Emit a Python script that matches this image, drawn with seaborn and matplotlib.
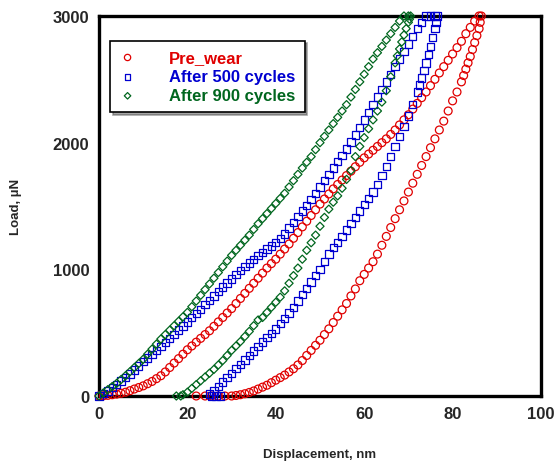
import numpy as np
import pandas as pd
import matplotlib
matplotlib.use("Agg")
import matplotlib.pyplot as plt
import seaborn as sns

sns.set_style("white")
plt.rcParams["font.family"] = ["Liberation Sans", "DejaVu Sans"]

# ---------------------------------------------------------------- data (~1 nm steps)
pre_load_x = list(range(0, 87))
pre_load_y = [0, 2, 5, 10, 15, 22, 30, 42, 55, 67, 80, 97, 115, 137, 160, 190, 225, 260,
              295, 330, 365, 395, 425, 455, 485, 515, 550, 585, 620, 655, 690, 730, 770,
              810, 850, 890, 930, 970, 1010, 1045, 1080, 1120, 1160, 1200, 1245, 1290, 1335,
              1380, 1425, 1470, 1515, 1555, 1595, 1635, 1670, 1705, 1740, 1775, 1810, 1845,
              1880, 1910, 1940, 1970, 2000, 2030, 2065, 2100, 2140, 2180, 2220, 2265, 2310,
              2355, 2400, 2450, 2500, 2550, 2600, 2650, 2700, 2750, 2800, 2860, 2910, 2960,
              3000]
pre_unload_x = [86.5, 86.25, 86, 85.5, 85, 84.5, 84, 83.5, 83, 82.5] + \
    list(range(82, 29, -1)) + [28.5, 27, 25.5, 24, 22]
pre_unload_y = [3000, 2950, 2900, 2845, 2790, 2735, 2680, 2630, 2580, 2530,
                2480, 2400, 2330, 2250, 2170, 2100, 2030, 1960, 1890, 1820, 1750, 1680,
                1610, 1540, 1470, 1400, 1330, 1260, 1190, 1120, 1060, 1010, 960, 910, 845,
                790, 730, 680, 630, 580, 530, 485, 440, 400, 360, 320, 280, 245, 215, 190,
                165, 145, 125, 105, 85, 70, 55, 40, 28, 18, 10, 4, 0, 0, 0, 0, 0, 0]

c500_load_x = list(range(0, 77))
c500_load_y = [0, 20, 40, 65, 90, 118, 145, 175, 205, 238, 270, 300, 330, 360, 390, 422,
               455, 488, 520, 553, 585, 618, 650, 685, 720, 755, 790, 825, 860, 893, 925,
               958, 990, 1020, 1050, 1080, 1110, 1135, 1160, 1185, 1210, 1245, 1280, 1325,
               1370, 1415, 1460, 1505, 1550, 1600, 1650, 1700, 1750, 1800, 1850, 1900, 1950,
               2005, 2060, 2120, 2180, 2240, 2300, 2360, 2420, 2480, 2540, 2600, 2660, 2720,
               2780, 2840, 2900, 2950, 3000, 3000, 3000]
c500_unload_x = [76.5, 76.25, 76, 75.5, 75, 74.5, 74, 73.5, 73, 72.5] + \
    list(range(72, 24, -1)) + [25.5, 26.5, 27.5]
c500_unload_y = [3000, 2950, 2900, 2830, 2760, 2695, 2630, 2570, 2510, 2455,
                 2400, 2300, 2210, 2130, 2050, 1970, 1890, 1810, 1740, 1670, 1610, 1560,
                 1510, 1460, 1410, 1360, 1310, 1260, 1210, 1170, 1120, 1060, 1000, 950,
                 900, 850, 800, 750, 700, 655, 610, 570, 530, 495, 460, 425, 390, 355, 320,
                 285, 250, 215, 180, 145, 110, 75, 40, 15, 0, 0, 0]

c900_load_x = list(range(0, 71))
c900_load_y = [0, 25, 50, 75, 100, 130, 160, 192, 225, 257, 290, 330, 370, 410, 450, 485,
               520, 555, 590, 625, 660, 705, 750, 795, 840, 885, 930, 975, 1020, 1065, 1110,
               1150, 1190, 1230, 1270, 1315, 1360, 1400, 1440, 1480, 1520, 1560, 1600, 1650,
               1700, 1750, 1800, 1845, 1890, 1945, 2000, 2050, 2100, 2150, 2200, 2250, 2300,
               2360, 2420, 2480, 2540, 2600, 2660, 2710, 2760, 2810, 2860, 2910, 2960, 3000,
               3000]
c900_unload_x = [70.5, 70.25, 70, 69.5, 69, 68.5, 68, 67.5] + \
    list(range(67, 18, -1)) + [18.5, 17.5]
c900_unload_y = [3000, 2975, 2950, 2900, 2850, 2795, 2740, 2685,
                 2630, 2520, 2410, 2320, 2250, 2180, 2110, 2040, 1970, 1890, 1780, 1710,
                 1640, 1580, 1530, 1475, 1410, 1340, 1270, 1210, 1150, 1080, 1010, 950,
                 890, 830, 780, 740, 700, 660, 620, 600, 555, 510, 470, 430, 395, 360, 320,
                 280, 245, 210, 180, 150, 120, 90, 60, 30, 10, 0, 0]

series = [
    ("Pre_wear", "o", "#e00000", 32,
     pre_load_x + pre_unload_x, pre_load_y + pre_unload_y),
    ("After 500 cycles", "s", "#0000d0", 28,
     c500_load_x + c500_unload_x, c500_load_y + c500_unload_y),
    ("After 900 cycles", "D", "#00661e", 17,
     c900_load_x + c900_unload_x, c900_load_y + c900_unload_y),
]

# ---------------------------------------------------------------- plot
fig = plt.figure(figsize=(5.54, 4.64), dpi=100)
ax = fig.add_axes([0.1787, 0.1444, 0.7978, 0.8190])

for name, mk, col, size, xs, ys in series:
    df = pd.DataFrame({"Displacement": xs, "Load": ys})
    sns.scatterplot(x="Displacement", y="Load", data=df, ax=ax, marker=mk, s=size,
                    facecolor="none", edgecolor=col, linewidth=0.9, label=name,
                    zorder=3, clip_on=False)

ax.set_xlim(0, 100)
ax.set_ylim(0, 3000)
ax.set_xticks([0, 20, 40, 60, 80, 100])
ax.set_yticks([0, 1000, 2000, 3000])
ax.tick_params(length=0, labelsize=12, pad=7)
for lab in ax.get_xticklabels() + ax.get_yticklabels():
    lab.set_fontweight("bold")
for sp in ax.spines.values():
    sp.set_linewidth(2.4)
    sp.set_color("black")

ax.set_xlabel("Displacement, nm", fontsize=9.5, fontweight="bold", labelpad=20)
ax.set_ylabel("Load, µN", fontsize=9.5, fontweight="bold", labelpad=22)

leg = ax.legend(loc="upper left", bbox_to_anchor=(0.025, 0.935), fontsize=12,
                frameon=True, fancybox=False, shadow=True, edgecolor="black",
                handlelength=1.0, handletextpad=2.0, borderpad=0.55, labelspacing=0.25,
                borderaxespad=0, markerscale=0.8)
leg.get_frame().set_linewidth(1.2)
for txt, s in zip(leg.get_texts(), series):
    txt.set_color(s[2])
    txt.set_fontweight("bold")

plt.savefig("out.png", dpi=100)
plt.close()
